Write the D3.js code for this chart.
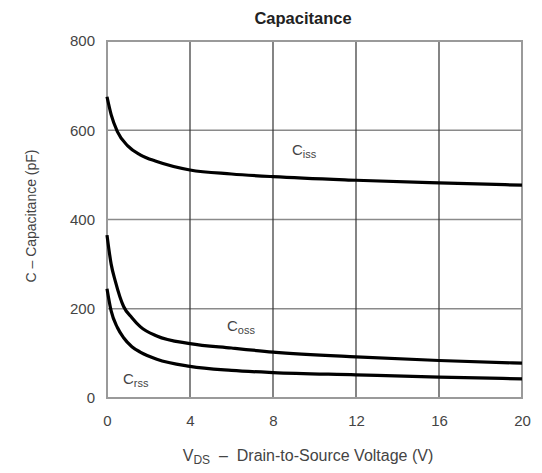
<!DOCTYPE html>
<html>
<head>
<meta charset="utf-8">
<script src="https://cdn.jsdelivr.net/npm/d3@7"></script>
<style>
  body { margin: 0; background: #fff; }
  text { font-family: "Liberation Sans", Arial, sans-serif; }
</style>
</head>
<body>
<div id="chart"></div>
<script>
const vds = {
  ciss: [0, 0.2, 0.5, 1, 1.6, 2.4, 4, 6, 8, 12, 16, 20],
  coss: [0, 0.2, 0.4, 0.8, 1.2, 1.6, 2.4, 4, 6, 8, 12, 16, 20],
  crss: [0, 0.2, 0.5, 0.8, 1.2, 1.6, 2.4, 4, 6, 8, 12, 16, 20]
};
const ciss = [675, 635, 597, 565, 545, 530, 511, 502, 496, 488, 482, 477];
const coss = [365, 300, 262, 205, 180, 160, 139, 122, 112, 103, 92, 84, 78];
const crss = [245, 195, 158, 135, 115, 103, 87, 71, 62, 57, 52, 47, 43];
const xTicks = [0, 4, 8, 12, 16, 20];
const yTicks = [0, 200, 400, 600, 800];

const width = 542, height = 473;
const margin = {top: 41, right: 20, bottom: 75, left: 107};

const svg = d3.select("#chart").append("svg").attr("width", width).attr("height", height);

const x = d3.scaleLinear().domain([0, 20]).range([margin.left, width - margin.right]);
const y = d3.scaleLinear().domain([0, 800]).range([height - margin.bottom, margin.top]);

// grid
svg.append("g").selectAll("line").data(yTicks.slice(1, -1)).enter().append("line")
  .attr("x1", x(0)).attr("x2", x(20)).attr("y1", d => y(d)).attr("y2", d => y(d))
  .attr("stroke", "#8a8a8a").attr("stroke-width", 1.3);
svg.append("g").selectAll("line").data(xTicks.slice(1, -1)).enter().append("line")
  .attr("x1", d => x(d)).attr("x2", d => x(d)).attr("y1", y(0)).attr("y2", y(800))
  .attr("stroke", "#333").attr("stroke-width", 1.2);

// frame
svg.append("rect").attr("x", x(0)).attr("y", y(800))
  .attr("width", x(20) - x(0)).attr("height", y(0) - y(800))
  .attr("fill", "none").attr("stroke", "#9a9a9a").attr("stroke-width", 2);

// axes labels
const xAxis = svg.append("g").attr("transform", `translate(0,${y(0)})`)
  .call(d3.axisBottom(x).tickValues(xTicks).tickSize(0).tickPadding(17));
xAxis.select(".domain").remove();
xAxis.selectAll("text").attr("font-size", 15).attr("fill", "#444");

const yAxis = svg.append("g").attr("transform", `translate(${x(0)},0)`)
  .call(d3.axisLeft(y).tickValues(yTicks).tickSize(0).tickPadding(12));
yAxis.select(".domain").remove();
yAxis.selectAll("text").attr("font-size", 15).attr("fill", "#444");

// curves
const line = d3.line().curve(d3.curveMonotoneX).x(d => x(d[0])).y(d => y(d[1]));
[[vds.ciss, ciss], [vds.coss, coss], [vds.crss, crss]].forEach(([xs, ys]) => {
  svg.append("path").datum(xs.map((v, i) => [v, ys[i]]))
    .attr("fill", "none").attr("stroke", "#000").attr("stroke-width", 3.2)
    .attr("stroke-linejoin", "round").attr("d", line);
});

// curve labels
function capLabel(px, py, sub) {
  const t = svg.append("text").attr("x", px).attr("y", py).attr("font-size", 15).attr("fill", "#444");
  t.append("tspan").text("C");
  t.append("tspan").attr("dy", 3).attr("font-size", 11).text(sub);
}
capLabel(292, 155, "iss");
capLabel(227, 331, "oss");
capLabel(123, 384, "rss");

// title
svg.append("text").attr("x", 303).attr("y", 24).attr("text-anchor", "middle")
  .attr("font-size", 16.5).attr("font-weight", "bold").attr("fill", "#222").text("Capacitance");

// x title
const xt = svg.append("text").attr("x", 308).attr("y", 461).attr("text-anchor", "middle")
  .attr("font-size", 16).attr("fill", "#444");
xt.append("tspan").text("V");
xt.append("tspan").attr("dy", 3).attr("font-size", 12).text("DS");
xt.append("tspan").attr("dy", -3).text("\u00a0\u00a0\u2013\u00a0\u00a0Drain-to-Source Voltage (V)");

// y title
svg.append("text").attr("transform", "rotate(-90)").attr("x", -216).attr("y", 36)
  .attr("text-anchor", "middle").attr("font-size", 14).attr("fill", "#444")
  .text("C\u00a0\u2013\u00a0Capacitance (pF)");
</script>
</body>
</html>
